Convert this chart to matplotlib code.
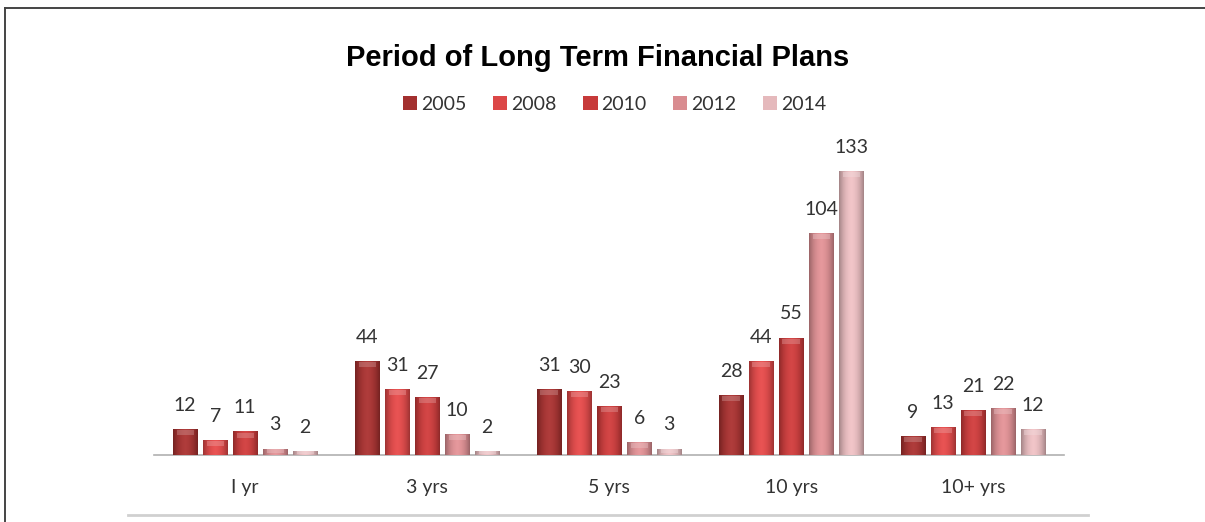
import numpy as np
import matplotlib
matplotlib.use("Agg")
import matplotlib.pyplot as plt
from matplotlib.colors import to_rgb
from matplotlib.patches import Rectangle
from matplotlib.lines import Line2D

categories = ["I yr", "3 yrs", "5 yrs", "10 yrs", "10+ yrs"]
years = ["2005", "2008", "2010", "2012", "2014"]
values_2005 = [12, 44, 31, 28, 9]
values_2008 = [7, 31, 30, 44, 13]
values_2010 = [11, 27, 23, 55, 21]
values_2012 = [3, 10, 6, 104, 22]
values_2014 = [2, 2, 3, 133, 12]
series = [values_2005, values_2008, values_2010, values_2012, values_2014]
colors = ["#a3302f", "#dc4747", "#c73a3a", "#d98c90", "#e5b9bc"]

plt.rcParams["font.family"] = ["Lato", "DejaVu Sans"]

fig = plt.figure(figsize=(12.05, 5.22), dpi=100)
ax = fig.add_axes([0.128, 0.1284, 0.755, 0.5728])

bar_w = 0.135
step = 0.165
x = np.arange(len(categories))


def shaded(color):
    # horizontal shading: darker edges, lighter middle
    base = np.array(to_rgb(color))
    t = np.linspace(-1, 1, 40)
    k = 1 - 0.28 * np.abs(t) ** 2.2
    img = np.clip(base[None, :] * k[:, None] + 0.05 * (1 - np.abs(t))[:, None], 0, 1)
    return img[None, :, :]


for i, (vals, col) in enumerate(zip(series, colors)):
    pos = x + (i - 2) * step
    bars = ax.bar(pos, vals, width=bar_w, color=col, edgecolor="none", zorder=2)
    for b, v in zip(bars, vals):
        x0, w, h = b.get_x(), b.get_width(), b.get_height()
        im = ax.imshow(shaded(col), extent=(x0, x0 + w, 0, h), aspect="auto",
                       zorder=3, interpolation="bilinear")
        im.set_clip_path(b)
        # soft bevel highlight at the top of each bar
        cap_h = min(2.4, h * 0.6)
        cap = np.array(to_rgb(col)) * 0.5 + 0.5
        ax.add_patch(Rectangle((x0 + w * 0.15, h - cap_h * 1.2), w * 0.7, cap_h,
                               facecolor=cap, edgecolor="none", alpha=0.4, zorder=4))
        ax.annotate(str(v), (x0 + w / 2, h), xytext=(0, 17), textcoords="offset points",
                    ha="center", va="center", fontsize=14, color="#333333")

ax.set_xlim(-0.5, 4.5)
ax.set_ylim(0, 140)
ax.set_xticks(x)
ax.set_xticklabels(categories, fontsize=14, color="#333333")
ax.tick_params(axis="x", length=0, pad=17)
ax.set_yticks([])
for side in ["top", "right", "left"]:
    ax.spines[side].set_visible(False)
ax.spines["bottom"].set_color("#b0b0b0")
ax.spines["bottom"].set_linewidth(1.2)

fig.text(0.496, 0.888, "Period of Long Term Financial Plans", ha="center", va="center",
         fontsize=21, fontweight="bold", family=["Liberation Sans", "DejaVu Sans"])

handles = [Rectangle((0, 0), 1, 1, facecolor=c, edgecolor="none") for c in colors]
fig.legend(handles, years, loc="center", bbox_to_anchor=(0.51, 0.8), ncol=5,
           frameon=False, fontsize=14, handlelength=0.75, handleheight=0.75,
           handletextpad=0.2, columnspacing=1.35, labelcolor="#333333")

# frame lines around the chart area
fig.add_artist(Line2D([0.0045, 0.0045], [0.0, 0.985], transform=fig.transFigure,
                      color="#444444", lw=1.4))
fig.add_artist(Line2D([0.0045, 1.0], [0.985, 0.985], transform=fig.transFigure,
                      color="#444444", lw=1.4))
fig.add_artist(Line2D([0.106, 0.903], [0.014, 0.014], transform=fig.transFigure,
                      color="#d0d0d0", lw=2))

fig.savefig("out.png", dpi=100)
